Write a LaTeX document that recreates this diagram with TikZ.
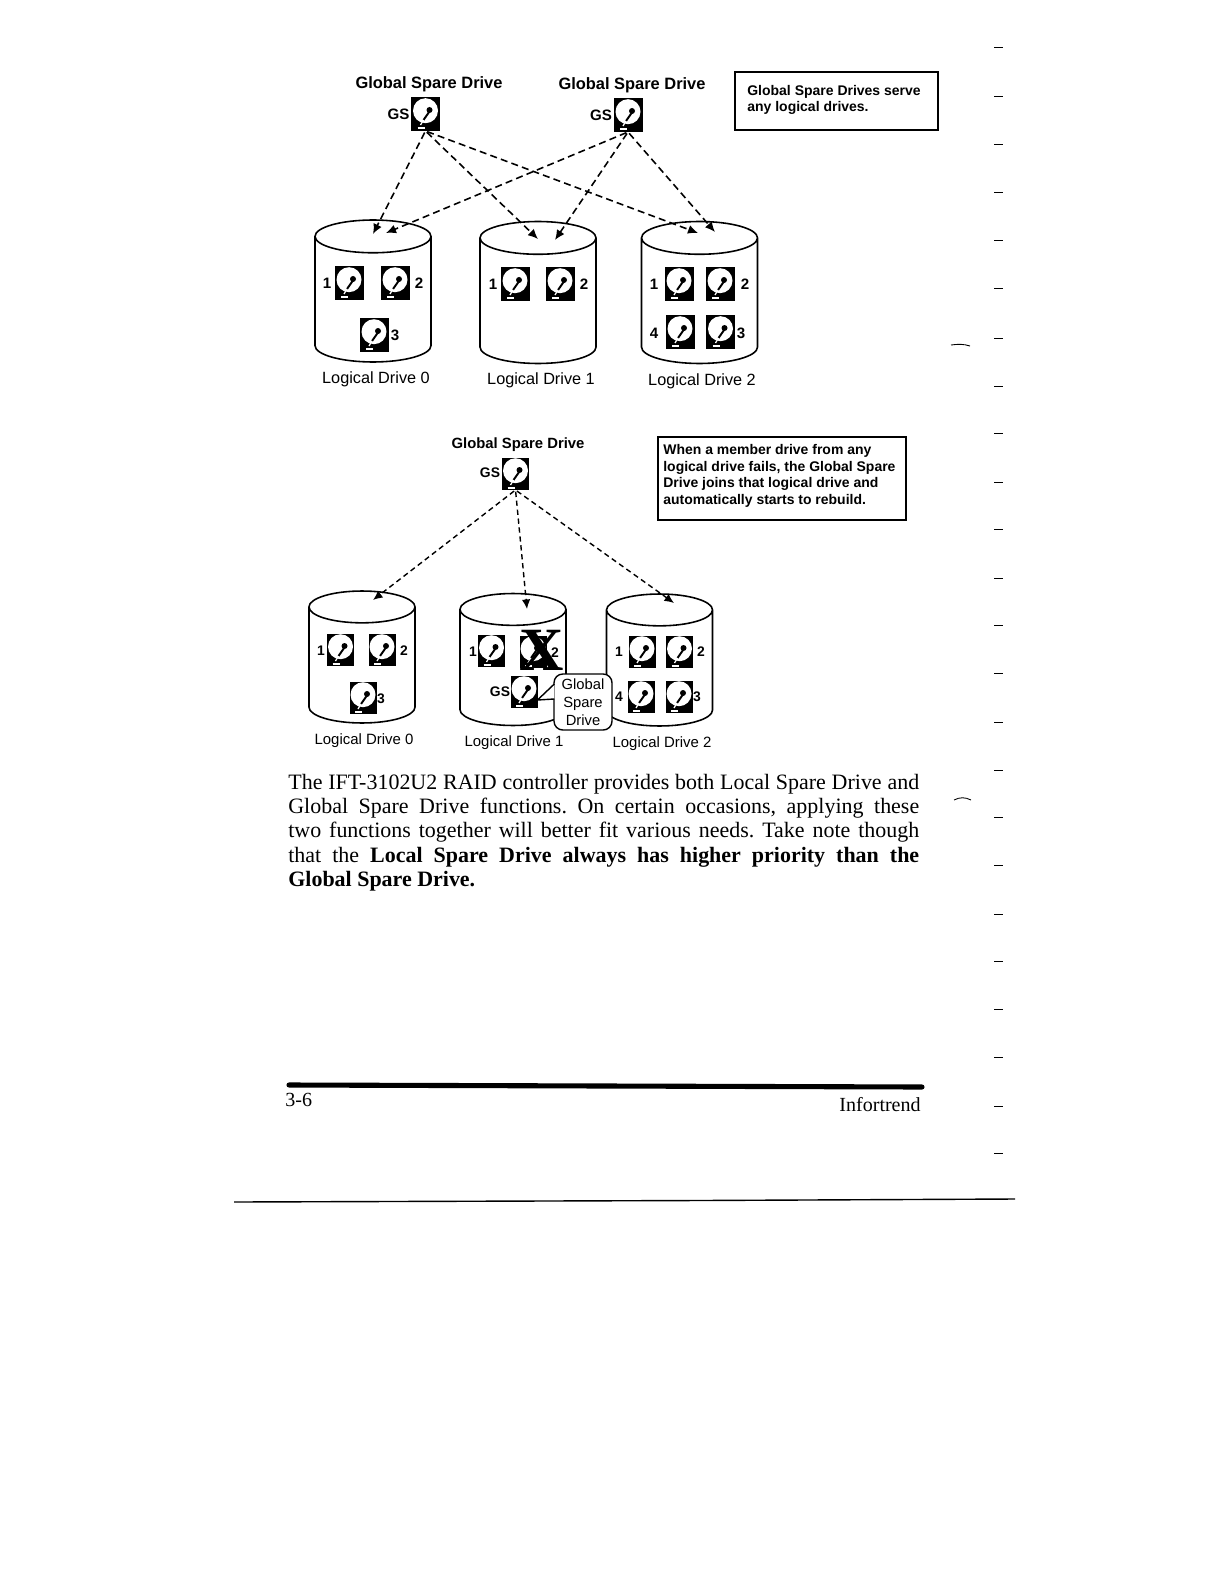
\documentclass[tikz,border=0pt]{standalone}
\usepackage{fontspec}
\setmainfont{Liberation Serif}
\setsansfont{Liberation Sans}
\usetikzlibrary{positioning,arrows.meta,shapes.geometric,calc}
\frenchspacing
\tikzset{
  hdd/.style   ={fill=black, inner sep=0pt, outer sep=0pt, minimum width=.58cm, minimum height=.68cm,
    path picture={
      \coordinate (hc) at (path picture bounding box.center);
      \fill[white] ($(hc)+(0,-3.3)$) circle (.25cm);
      \draw[black,line width=1.1pt] ($(hc)+(5,-4)$) -- ($(hc)+(-2,6)$);
      \fill[black] ($(hc)+(4,-4)$) circle (.06cm);
      \draw[white,line width=.7pt] ($(hc)+(-2,6)$) -- ($(hc)+(-5,11)$);
      \draw[white,line width=.9pt] ($(hc)+(-8,14)$) -- ($(hc)+(-1,14)$);
    }},
  hdds/.style  ={hdd, minimum width=.54cm, minimum height=.64cm},
  drv/.style   ={draw=black, fill=white, cylinder, shape border rotate=90, shape aspect=2.8, inner sep=3.33pt, outer sep=0pt,
                 line width=.9pt, minimum width=2.32cm, minimum height=2.84cm, anchor=shape center},
  drvs/.style  ={drv, shape aspect=2.72, minimum width=2.12cm, minimum height=2.64cm},
  ln/.style    ={draw=black, line width=.9pt, dash pattern=on 4pt off 2.4pt, -{Latex[length=2mm,width=1.8mm]}, shorten <=1pt},
  lns/.style   ={draw=black, line width=.8pt, dash pattern=on 3pt off 2.1pt, -{Latex[length=1.9mm,width=1.7mm]}, shorten <=1pt},
  hd/.style    ={font=\sffamily\bfseries\fontsize{9.35}{12}\selectfont, inner sep=0pt},
  hds/.style   ={font=\sffamily\bfseries\fontsize{8.45}{11}\selectfont, inner sep=0pt},
  gs/.style    ={font=\sffamily\bfseries\fontsize{8.6}{10}\selectfont, inner sep=0pt},
  gss/.style   ={font=\sffamily\bfseries\fontsize{7.9}{10}\selectfont, inner sep=0pt},
  lbl/.style   ={font=\sffamily\fontsize{9.26}{11}\selectfont, inner sep=0pt},
  lbls/.style  ={font=\sffamily\fontsize{8.5}{10}\selectfont, inner sep=0pt},
  notebox/.style={draw=black, line width=.9pt, fill=white, align=left, font=\sffamily\bfseries, inner sep=0pt, anchor=north west},
  tick/.style  ={draw=black, line width=.5pt},
}
\begin{document}
\begin{tikzpicture}[x=.02cm,y=-.02cm]
    \useasboundingbox[fill=white] (0,0) rectangle (1224,1584);

    \node[hd] (top1) at (429,84) {Global Spare Drive};
    \node[hd] (top2) at (632,85) {Global Spare Drive};
    \node[hdd] (gs1) at (425.5,114) {};
    \node[hdd] (gs2) at (628,115) {};
    \node[gs] (gs1t) at (398.5,114) {GS};
    \node[gs] (gs2t) at (601,115) {GS};
    \node[notebox,minimum width=4.06cm,minimum height=1.16cm] (noteA) at (734,71) {};
    \node[font=\sffamily\bfseries\fontsize{7.96}{9}\selectfont,align=left,inner sep=0pt,anchor=north west] (noteAt) at (747,85)
      {Global Spare Drives serve\\ any logical drives.};

    \node[drv] (a0) at (373,291) {};
    \node[drv] (a1) at (538,292.5) {};
    \node[drv] (a2) at (699.5,292.5) {};

    \foreach \n/\x/\y in {a01/349/283,a02/395/283,a03/374/335,b01/515/284,b02/560/284,
                          c01/679/284,c02/720/284,c04/680/332,c03/720.5/332}
      \node[hdd] (\n) at (\x,\y) {};
    \foreach \n/\x/\y/\t in {a11/327/283/1,a12/419/283/2,a13/395/335/3,b11/493/284/1,b12/584/284/2,
                             c11/654/284/1,c12/745/284/2,c14/654/333/4,c13/741/333/3}
      \node[gs] (\n) at (\x,\y) {\t};

    \node[lbl] (a0t) at (376,379.5) {Logical Drive 0};
    \node[lbl] (a1t) at (541,380.5) {Logical Drive 1};
    \node[lbl] (a2t) at (702,381.5) {Logical Drive 2};

    \coordinate (p0) at (373,234);
    \coordinate (p1) at (386,233);
    \coordinate (p2) at (538,239);
    \coordinate (p3) at (555,240);
    \coordinate (p4) at (698,233);
    \coordinate (p5) at (715,232);
    \draw[ln] (gs1.south) -- (p0);
    \draw[ln] (gs1.south) -- (p2);
    \draw[ln] (gs1.south) -- (p4);
    \draw[ln] (gs2.south) -- (p1);
    \draw[ln] (gs2.south) -- (p3);
    \draw[ln] (gs2.south) -- (p5);

    \node[hds] (top3) at (518,445) {Global Spare Drive};
    \node[hdds] (gs3) at (515.5,474) {};
    \node[gss] (gs3t) at (490,473) {GS};
    \node[notebox,minimum width=4.96cm,minimum height=1.66cm] (noteB) at (657,436) {};
    \node[font=\sffamily\bfseries\fontsize{7.95}{9.45}\selectfont,align=left,inner sep=0pt,anchor=north west] (noteBt) at (663,444)
      {When a member drive from any\\ logical drive fails, the Global Spare\\ Drive joins that logical drive and\\ automatically starts to rebuild.};

    \node[drvs] (d0) at (362,657) {};
    \node[drvs] (d1) at (513,659.5) {};
    \node[drvs] (d2) at (659.5,660) {};

    \foreach \n/\x/\y in {e01/340.5/650,e02/382/650,e03/363/698,f01/491.5/651,f02/533/652,
                          g01/642/652,g02/679.5/652,g04/641/697,g03/679/697}
      \node[hdds] (\n) at (\x,\y) {};
    \node[font=\rmfamily\bfseries\fontsize{35}{35}\selectfont,inner sep=0pt] (failx) at (542,650) {X};
    \foreach \n/\x/\y/\t in {e11/321/651/1,e12/404/651/2,e13/381/699/3,f11/473/652/1,f12/555/653/2,
                             g11/619/652/1,g12/701/652/2,g14/619/697/4,g13/697/697/3}
      \node[gss] (\n) at (\x,\y) {\t};

    \node[hdds] (gsin) at (524,692) {};
    \node[gss] (gsint) at (500,692) {GS};
    \node[draw=black,fill=white,line width=.8pt,rounded corners=5pt,align=center,inner sep=0pt,
          minimum width=1.16cm,minimum height=1.12cm,font=\sffamily\fontsize{8.4}{10.2}\selectfont] (gsnote) at (583,702)
      {Global\\ Spare\\ Drive};
    \coordinate (notetip) at ($(gsin.east)+(0,8)$);
    \draw[draw=black,fill=white,line width=.8pt] ($(gsnote.west)+(1,-18)$) -- (notetip) -- ($(gsnote.west)+(1,-3)$);

    \node[lbls] (d0t) at (364,740.5) {Logical Drive 0};
    \node[lbls] (d1t) at (514,742.5) {Logical Drive 1};
    \node[lbls] (d2t) at (662,743.5) {Logical Drive 2};

    \coordinate (q0) at (373,600);
    \coordinate (q1) at (527,609);
    \coordinate (q2) at (674,603);
    \draw[lns] (gs3.south) -- (q0);
    \draw[lns] (gs3.south) -- (q1);
    \draw[lns] (gs3.south) -- (q2);

    \node[align=justify,text width=12.62cm,inner sep=0pt,anchor=north west,font=\fontsize{12.5}{13.9}\selectfont] (para) at (288,773.5)
      {The IFT-3102U2 RAID controller provides both Local Spare Drive and\linebreak
       Global Spare Drive functions. On certain occasions, applying these\linebreak
       two functions together will better fit various needs. Take note though\linebreak
       that the \textbf{Local Spare Drive always has higher priority than the}\linebreak
       \textbf{Global Spare Drive.}};

    \draw[line width=2.9pt,line cap=round] (289,1085) -- (922,1087);
    \node[font=\fontsize{11.4}{14}\selectfont,inner sep=0pt,anchor=west] (page) at (285,1100) {3-6};
    \node[font=\fontsize{11.4}{14}\selectfont,inner sep=0pt,anchor=east] (brand) at (921,1105) {Infortrend};
    \draw[line width=.8pt] (234,1202) -- (700,1200.5) -- (1015,1199);

    \foreach \y in {47,96,144,192,240,288,338,386,433,482,529,578,625,673,722,770,817,865,914,961,1009,1057,1106,1153}
      \draw[tick] (994,\y) -- (1003,\y);
    \draw[tick] (951,345) .. controls (958,344) and (964,344) .. (970,346);
    \draw[tick] (954,800) .. controls (960,797) and (965,797) .. (971,800);
  \end{tikzpicture}
\end{document}
